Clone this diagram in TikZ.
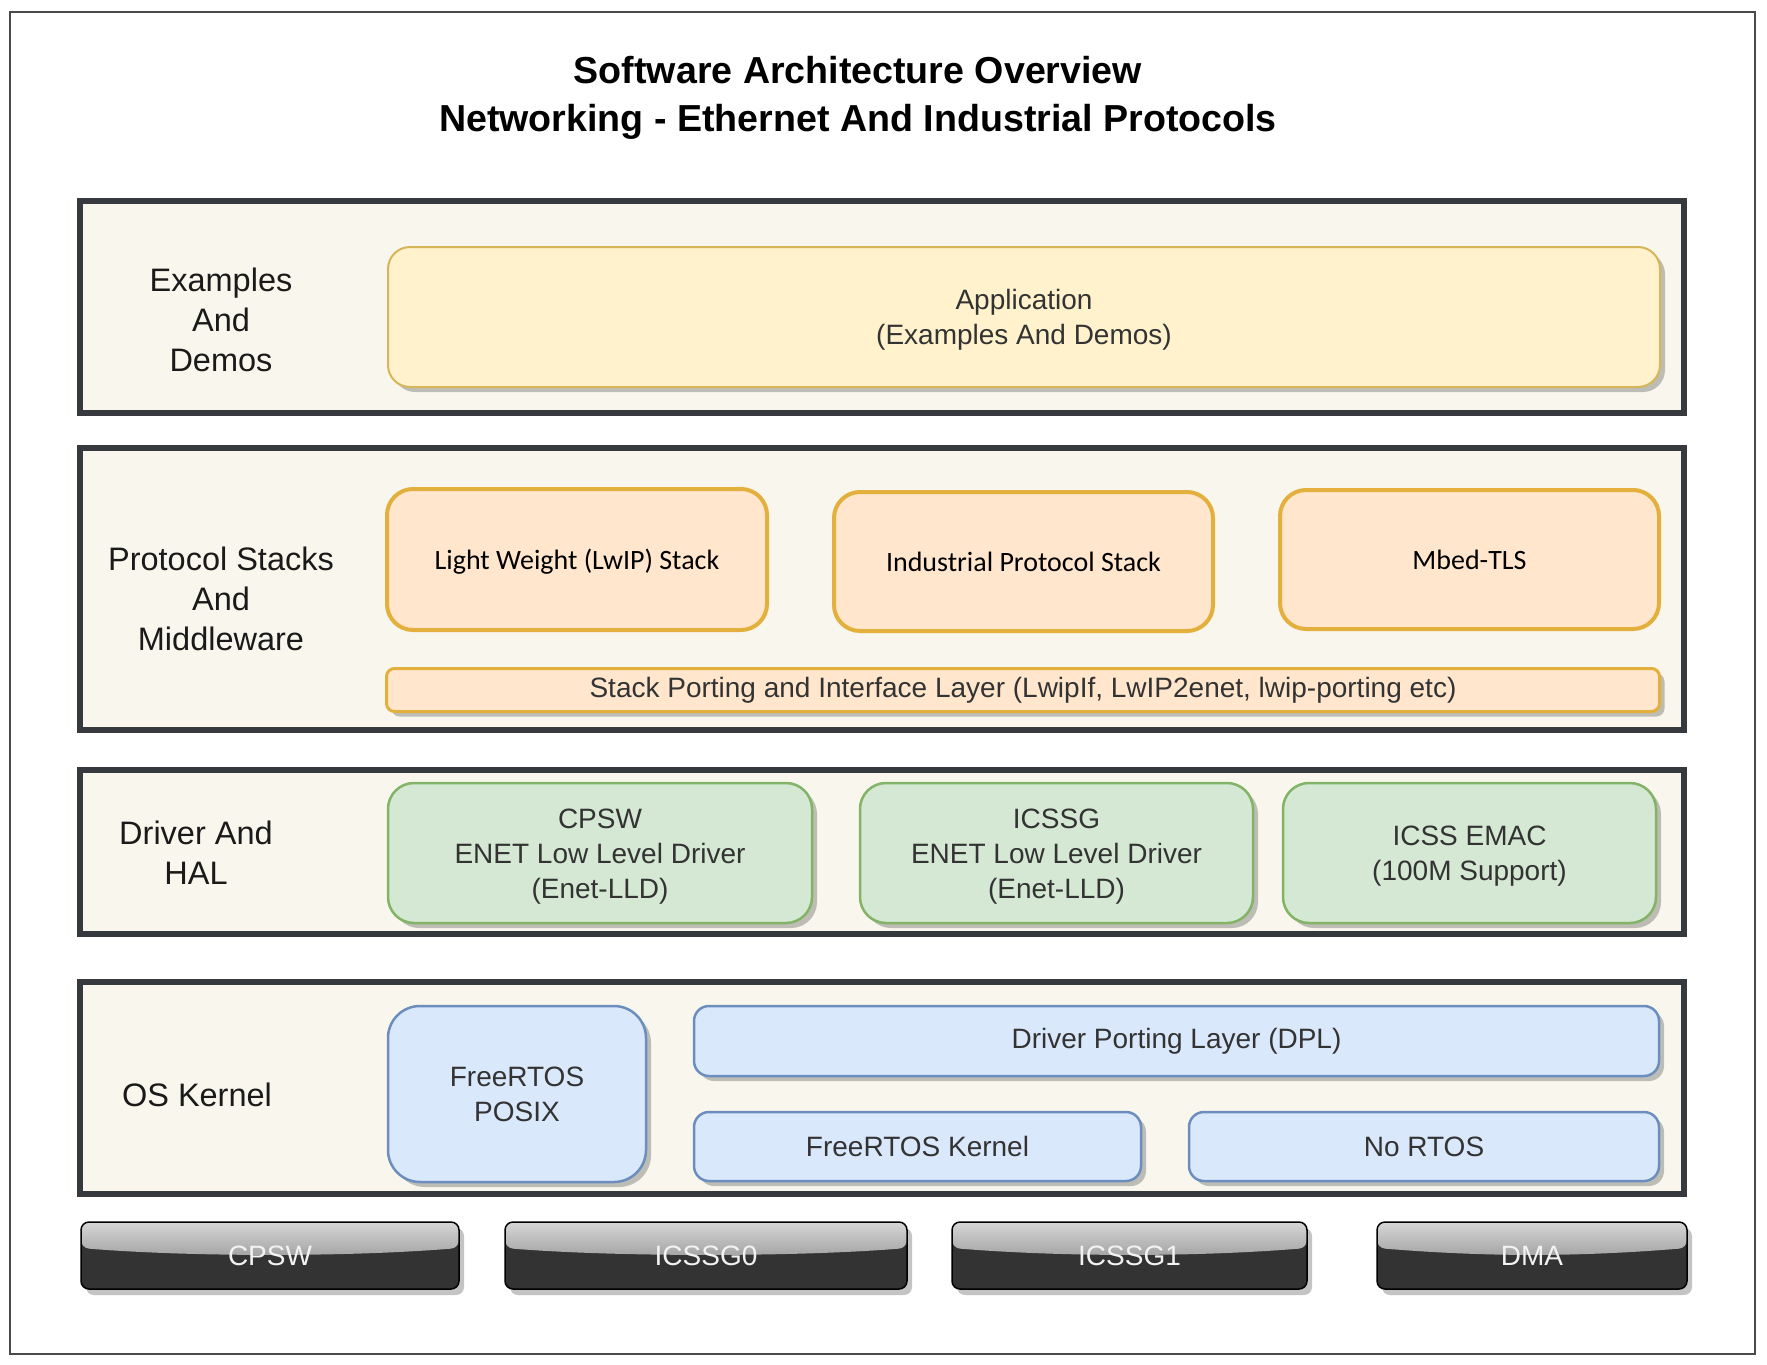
\documentclass[tikz,border=0pt]{standalone}
\usepackage{fontspec}
\setmainfont{Liberation Sans}
\newfontfamily\calfont{Carlito}
\usetikzlibrary{shadows}
\definecolor{framec}{HTML}{4A4A4A}
\definecolor{layerfill}{HTML}{F9F7ED}
\definecolor{layerdraw}{HTML}{36393D}
\definecolor{labeltext}{HTML}{1A1A1A}
\definecolor{boxtextc}{HTML}{333333}
\definecolor{appfill}{HTML}{FFF2CC}
\definecolor{appdraw}{HTML}{D6B656}
\definecolor{protfill}{HTML}{FFE6CC}
\definecolor{protdraw}{HTML}{E3AF3D}
\definecolor{drvfill}{HTML}{D5E8D4}
\definecolor{drvdraw}{HTML}{82B366}
\definecolor{osfill}{HTML}{DAE8FC}
\definecolor{osdraw}{HTML}{6C8EBF}
\definecolor{shadowgray}{HTML}{BDBDB6}
\definecolor{btndark}{HTML}{333333}
\definecolor{btntop}{HTML}{D6D6D6}
\definecolor{btnbot}{HTML}{737373}
\definecolor{btntext}{HTML}{F2F2F2}
\definecolor{btnshadow}{HTML}{C4C4C4}
\newcommand{\toppad}{\rule{0pt}{26pt}}
\tikzset{
  layer/.style={draw=layerdraw, fill=layerfill, line width=6pt, minimum width=1604pt, inner sep=0pt},
  lbl/.style={align=center, text=labeltext, font=\fontsize{32.5}{40}\selectfont, inner sep=0pt},
  sh/.style={drop shadow={shadow xshift=5pt, shadow yshift=-5pt, fill=shadowgray, opacity=1}},
  boxtext/.style={align=center, text=boxtextc, font=\fontsize{28}{35}\selectfont, inner sep=0pt},
  appbox/.style={boxtext, sh, draw=appdraw, fill=appfill, line width=2pt, rounded corners=22pt},
  protbox/.style={draw=protdraw, fill=protfill, line width=4pt, rounded corners=26pt, align=center, text=black, font=\calfont\fontsize{28}{34}\selectfont, inner sep=0pt},
  portbox/.style={boxtext, sh, draw=protdraw, fill=protfill, line width=3pt, rounded corners=8pt},
  drvbox/.style={boxtext, sh, draw=drvdraw, fill=drvfill, line width=2.5pt, rounded corners=26pt},
  osbox/.style={boxtext, sh, draw=osdraw, fill=osfill, line width=2.5pt},
  hwbtn/.style={draw=black, line width=1.5pt, fill=btndark, rounded corners=8pt, minimum height=67pt, inner sep=0pt,
    text=btntext, font=\fontsize{28}{34}\selectfont,
    drop shadow={shadow xshift=5pt, shadow yshift=-6pt, fill=btnshadow, opacity=1},
    path picture={\shade[top color=btntop, bottom color=btnbot]
      (path picture bounding box.north west) -- (path picture bounding box.north east)
      -- ([yshift=-26pt]path picture bounding box.north east)
      .. controls ([xshift=-110pt,yshift=-35pt]path picture bounding box.north east)
      and ([xshift=110pt,yshift=-35pt]path picture bounding box.north west)
      .. ([yshift=-26pt]path picture bounding box.north west) -- cycle;}}
}
\begin{document}
\begin{tikzpicture}[x=1pt,y=-1pt]
\useasboundingbox (0,0) rectangle (1767,1365);
\fill[white] (0,0) rectangle (1767,1365);
\node[draw=framec, line width=2.5pt, minimum width=1745pt, minimum height=1342pt, inner sep=0pt] (frame) at (882.5,683) {};

\node[align=center, font=\bfseries\fontsize{37.6}{48}\selectfont, text=black, inner sep=0pt] (title) at (858,97.5)
  {Software Architecture Overview\\Networking - Ethernet And Industrial Protocols};

% layers
\node[layer, minimum height=212pt] (L1) at (882,307) {};
\node[layer, minimum height=282pt] (L2) at (882,589) {};
\node[layer, minimum height=164pt] (L3) at (882,852) {};
\node[layer, minimum height=212pt] (L4) at (882,1088) {};

% layer labels
\node[lbl] (l1lbl) at (221,320) {Examples\\And\\Demos};
\node[lbl] (l2lbl) at (221,599) {Protocol Stacks\\And\\Middleware};
\node[lbl] (l3lbl) at (196,853) {Driver And\\HAL};
\node[lbl] (l4lbl) at (197,1095) {OS Kernel};

% examples
\node[appbox, minimum width=1272pt, minimum height=140pt] (app) at (1024,317) {\toppad Application\\(Examples And Demos)};

% protocol stacks
\node[protbox, minimum width=380pt, minimum height=141pt] (lwip) at (577,559.5) {\rule{0pt}{24pt}Light Weight (LwIP) Stack};
\node[protbox, minimum width=379pt, minimum height=139pt] (ind) at (1023.5,561.5) {Industrial Protocol Stack};
\node[protbox, minimum width=379pt, minimum height=139pt] (mbed) at (1469.5,559.5) {Mbed-TLS};
\node[portbox, minimum width=1273pt, minimum height=43pt] (port) at (1023,690) {Stack Porting and Interface Layer (LwipIf, LwIP2enet, lwip-porting etc)};

% drivers
\node[drvbox, minimum width=424pt, minimum height=140pt] (cpswdrv) at (600,853) {\toppad CPSW\\ENET Low Level Driver\\(Enet-LLD)};
\node[drvbox, minimum width=393pt, minimum height=140pt] (icssgdrv) at (1056.5,853) {\toppad ICSSG\\ENET Low Level Driver\\(Enet-LLD)};
\node[drvbox, minimum width=373pt, minimum height=140pt] (emac) at (1469.5,853) {\toppad ICSS EMAC\\(100M Support)};

% OS kernel
\node[osbox, rounded corners=32pt, minimum width=258pt, minimum height=176pt] (posix) at (517,1094) {FreeRTOS\\POSIX};
\node[osbox, rounded corners=15pt, minimum width=965pt, minimum height=70pt] (dpl) at (1176.5,1041) {Driver Porting Layer (DPL)};
\node[osbox, rounded corners=15pt, minimum width=447pt, minimum height=69pt] (frk) at (917.5,1146.5) {FreeRTOS Kernel};
\node[osbox, rounded corners=15pt, minimum width=470pt, minimum height=69pt] (nortos) at (1424,1146.5) {No RTOS};

% hardware
\node[hwbtn, minimum width=378pt] (hwcpsw) at (270,1255.5) {CPSW};
\node[hwbtn, minimum width=402pt] (hwicssg0) at (706,1255.5) {ICSSG0};
\node[hwbtn, minimum width=355pt] (hwicssg1) at (1129.5,1255.5) {ICSSG1};
\node[hwbtn, minimum width=310pt] (hwdma) at (1532,1255.5) {DMA};
\end{tikzpicture}
\end{document}
